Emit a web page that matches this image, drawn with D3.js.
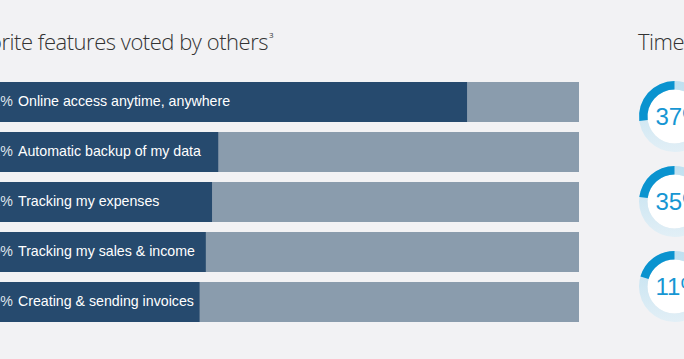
<!DOCTYPE html>
<html>
<head>
<meta charset="utf-8">
<script src="https://cdn.jsdelivr.net/npm/d3@7"></script>
<style>
  html, body { margin: 0; padding: 0; background: #f2f2f4; }
  svg { display: block; }
</style>
</head>
<body>
<svg id="chart" width="684" height="359"></svg>
<script>
// ---- data ----
const features = [
  "Online access anytime, anywhere",
  "Automatic backup of my data",
  "Tracking my expenses",
  "Tracking my sales & income",
  "Creating & sending invoices"
];
const featureVotes = [82, 42, 41, 40, 39];
const featureTitle = "Favorite features voted by others";
const featureNote = "3";

const timeTitle = "Time";
const timeValues = [37, 35, 11];
const timeRingShare = [0.27, 0.23, 0.205];

// ---- drawing ----
const svg = d3.select("#chart");
const W = 684, H = 359;
svg.append("rect").attr("width", W).attr("height", H).attr("fill", "#f2f2f4");

// Bar chart
const x = d3.scaleLinear().domain([0, 100]).range([-43, 579]);
const y = d3.scaleBand().domain(features).range([82, 322]).paddingInner(0.2).paddingOuter(0);

const bars = svg.append("g");
bars.selectAll("rect.bg").data(features).join("rect")
  .attr("class", "bg")
  .attr("x", x(0)).attr("width", x(100) - x(0))
  .attr("y", d => y(d)).attr("height", y.bandwidth())
  .attr("fill", "#8a9cad");
bars.selectAll("rect.fg").data(features).join("rect")
  .attr("class", "fg")
  .attr("x", x(0)).attr("width", (d, i) => x(featureVotes[i]) - x(0))
  .attr("y", d => y(d)).attr("height", y.bandwidth())
  .attr("fill", "#264a6e");
bars.selectAll("text.pct").data(features).join("text")
  .attr("class", "pct")
  .attr("x", 13).attr("y", d => y(d) + y.bandwidth() / 2 + 4)
  .attr("text-anchor", "end")
  .attr("font-family", "'Liberation Sans', Arial, sans-serif")
  .attr("font-size", 14.2).attr("fill", "#dfe5ec")
  .text((d, i) => featureVotes[i] + "%");
bars.selectAll("text.lbl").data(features).join("text")
  .attr("class", "lbl")
  .attr("x", 18).attr("y", d => y(d) + y.bandwidth() / 2 + 4)
  .attr("font-family", "'Liberation Sans', Arial, sans-serif")
  .attr("font-size", 14.2).attr("fill", "#ffffff")
  .text(d => d);

// Title: fit the visible part "rite features voted by others" into ~267px
const titleFont = "'Open Sans', 'Noto Sans', sans-serif";
const probe = svg.append("text")
  .attr("font-family", titleFont).attr("font-weight", 300).attr("font-size", 22)
  .text("rite features voted by others");
const probeW = probe.node().getComputedTextLength();
probe.remove();
const spacing = (267 - probeW) / 28;

svg.append("text")
  .attr("x", 268).attr("y", 50)
  .attr("text-anchor", "end")
  .attr("font-family", titleFont)
  .attr("font-weight", 300)
  .attr("letter-spacing", spacing)
  .attr("font-size", 22).attr("fill", "#333")
  .text(featureTitle);
svg.append("text")
  .attr("x", 269).attr("y", 38)
  .attr("font-family", titleFont)
  .attr("font-size", 8).attr("fill", "#333")
  .text(featureNote);

// Right panel
svg.append("text")
  .attr("x", 638).attr("y", 50)
  .attr("font-family", titleFont)
  .attr("font-weight", 300)
  .attr("letter-spacing", spacing)
  .attr("font-size", 22).attr("fill", "#333")
  .text(timeTitle);

const defs = svg.append("defs");
const grad = defs.append("linearGradient").attr("id", "ringLight")
  .attr("x1", 0).attr("y1", 0).attr("x2", 0).attr("y2", 1);
grad.append("stop").attr("offset", "0%").attr("stop-color", "#bfe0f0");
grad.append("stop").attr("offset", "100%").attr("stop-color", "#e2eff6");

const ringY = d3.scalePoint().domain(d3.range(timeValues.length)).range([116.5, 286.5]);
const ringCx = 674.5, rOuter = 35.5, rInner = 27;
const angle = d3.scaleLinear().domain([0, 1]).range([0, 2 * Math.PI]);
const arc = d3.arc().innerRadius(rInner).outerRadius(rOuter);

const rings = svg.append("g").selectAll("g").data(timeValues).join("g")
  .attr("transform", (d, i) => `translate(${ringCx},${ringY(i)})`);
rings.append("circle").attr("r", rInner).attr("fill", "#ffffff");
rings.append("path")
  .attr("d", arc({ startAngle: 0, endAngle: 2 * Math.PI }))
  .attr("fill", "url(#ringLight)");
rings.append("path")
  .attr("d", (d, i) => arc({ startAngle: -angle(timeRingShare[i]), endAngle: 0 }))
  .attr("fill", "#0a93cf");
rings.append("text")
  .attr("x", -19).attr("y", 8.5)
  .attr("font-family", "'Liberation Sans', Arial, sans-serif")
  .attr("font-size", 24).attr("fill", "#1696d3")
  .text(d => d + "%");
</script>
</body>
</html>
